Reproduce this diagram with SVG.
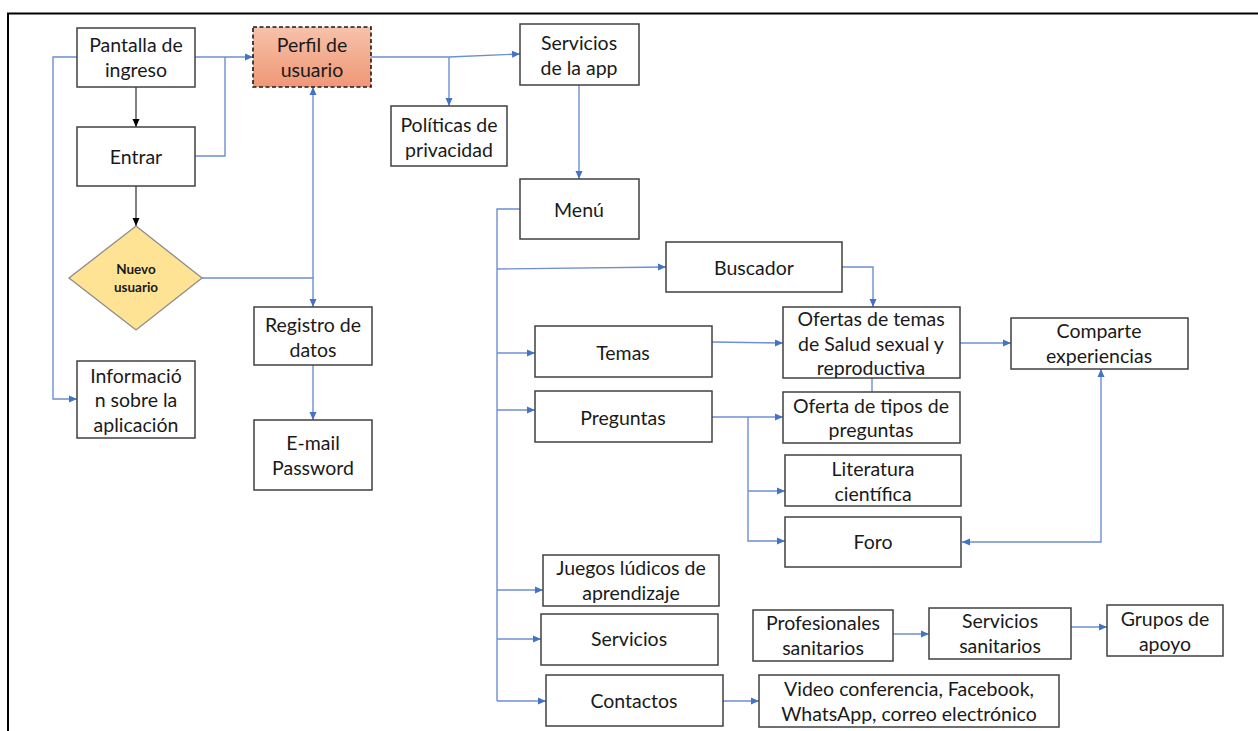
<svg xmlns="http://www.w3.org/2000/svg" width="1258" height="731" viewBox="0 0 1258 731">
<style>
.box{fill:#fff;stroke:#404040;stroke-width:1.5}
.t{font-family:Lato,"Liberation Sans",sans-serif;font-size:19.5px;fill:#1a1a1a;text-anchor:middle}
.tb{font-family:Lato,"Liberation Sans",sans-serif;font-size:13.5px;font-weight:bold;fill:#1a1a1a;text-anchor:middle}
.c{fill:none;stroke:#6d8fd3;stroke-width:1.4}
.k{fill:none;stroke:#1a1a1a;stroke-width:1.1}
</style>
<defs>
<linearGradient id="sal" x1="0" y1="0" x2="0" y2="1">
<stop offset="0" stop-color="#f7c2aa"/>
<stop offset="1" stop-color="#ef9776"/>
</linearGradient>
<marker id="ab" markerUnits="userSpaceOnUse" markerWidth="10" markerHeight="10" refX="9" refY="5" orient="auto">
<path d="M1,1.5 L9,5 L1,8.5 Z" fill="#4472c4"/>
</marker>
<marker id="abs" markerUnits="userSpaceOnUse" markerWidth="10" markerHeight="10" refX="1" refY="5" orient="auto">
<path d="M9,1.5 L1,5 L9,8.5 Z" fill="#4472c4"/>
</marker>
<marker id="ak" markerUnits="userSpaceOnUse" markerWidth="10" markerHeight="10" refX="9" refY="5" orient="auto">
<path d="M1,1.5 L9,5 L1,8.5 Z" fill="#000"/>
</marker>
</defs>
<rect x="0" y="0" width="1258" height="731" fill="#fff"/>
<path d="M8,731 L8,13.5 L1258,13.5" fill="none" stroke="#000" stroke-width="2"/>

<g id="connectors">
<path class="k" d="M136,87 L136,127" marker-end="url(#ak)"/>
<path class="k" d="M136,186 L136,226" marker-end="url(#ak)"/>
<path class="c" d="M195,57 L253,57" marker-end="url(#ab)"/>
<path class="c" d="M195,156 L225,156 L225,57"/>
<path class="c" d="M77,57 L53,57 L53,399 L77,399" marker-end="url(#ab)"/>
<path class="c" d="M313,278 L313,87" marker-end="url(#ab)"/>
<path class="c" d="M202,278 L313,278 L313,307" marker-end="url(#ab)"/>
<path class="c" d="M313,365 L313,420" marker-end="url(#ab)"/>
<path class="c" d="M371,57 L449,57 L520,54" marker-end="url(#ab)"/>
<path class="c" d="M449,57 L449,106" marker-end="url(#ab)"/>
<path class="c" d="M579,85 L579,179" marker-end="url(#ab)"/>
<path class="c" d="M520,209 L497,209 L497,701"/>
<path class="c" d="M497,269 L666,267" marker-end="url(#ab)"/>
<path class="c" d="M497,353 L535,353" marker-end="url(#ab)"/>
<path class="c" d="M497,410 L535,410" marker-end="url(#ab)"/>
<path class="c" d="M497,590 L543,590" marker-end="url(#ab)"/>
<path class="c" d="M497,639 L541,639" marker-end="url(#ab)"/>
<path class="c" d="M497,701 L546,701" marker-end="url(#ab)"/>
<path class="c" d="M842,267 L873,267 L873,307" marker-end="url(#ab)"/>
<path class="c" d="M712,342 L783,343" marker-end="url(#ab)"/>
<path class="c" d="M960,343 L1011,343" marker-end="url(#ab)"/>
<path class="c" d="M872,378 L872,392"/>
<path class="c" d="M712,417 L783,417" marker-end="url(#ab)"/>
<path class="c" d="M748,417 L748,541 L785,541" marker-end="url(#ab)"/>
<path class="c" d="M748,491 L785,491" marker-end="url(#ab)"/>
<path class="c" d="M962,542 L1101,542 L1101,369" marker-start="url(#abs)" marker-end="url(#ab)"/>
<path class="c" d="M723,701 L759,701" marker-end="url(#ab)"/>
<path class="c" d="M893,634 L929,634" marker-end="url(#ab)"/>
<path class="c" d="M1071,627 L1107,627" marker-end="url(#ab)"/>
</g>

<g id="pantalla"><rect class="box" x="77" y="28" width="118" height="59"/><text class="t" x="136" y="52">Pantalla de</text><text class="t" x="136" y="77">ingreso</text></g>
<g id="perfil"><rect x="253" y="27" width="118" height="60" fill="url(#sal)" stroke="#1a1a1a" stroke-width="1.6" stroke-dasharray="4,2.5"/><text class="t" x="312" y="52">Perfil de</text><text class="t" x="312" y="77">usuario</text></g>
<g id="entrar"><rect class="box" x="77" y="127" width="118" height="59"/><text class="t" x="136" y="164">Entrar</text></g>
<g id="nuevo"><path d="M136,226 L202,278 L136,330 L69,278 Z" fill="#ffe395" stroke="#8c8c8c" stroke-width="1.3"/><text class="tb" x="136" y="274">Nuevo</text><text class="tb" x="136" y="292">usuario</text></g>
<g id="informacion"><rect class="box" x="77" y="361" width="118" height="77"/><text class="t" x="136" y="383">Informació</text><text class="t" x="136" y="407">n sobre la</text><text class="t" x="136" y="432">aplicación</text></g>
<g id="registro"><rect class="box" x="254" y="307" width="118" height="58"/><text class="t" x="313" y="332">Registro de</text><text class="t" x="313" y="357">datos</text></g>
<g id="email"><rect class="box" x="254" y="420" width="118" height="70"/><text class="t" x="313" y="450">E-mail</text><text class="t" x="313" y="475">Password</text></g>
<g id="politicas"><rect class="box" x="391" y="106" width="116" height="60"/><text class="t" x="449" y="132">Políticas de</text><text class="t" x="449" y="157">privacidad</text></g>
<g id="servapp"><rect class="box" x="520" y="24" width="119" height="61"/><text class="t" x="579" y="50">Servicios</text><text class="t" x="579" y="75">de la app</text></g>
<g id="menu"><rect class="box" x="520" y="179" width="119" height="60"/><text class="t" x="579" y="217">Menú</text></g>
<g id="buscador"><rect class="box" x="666" y="242" width="176" height="50"/><text class="t" x="754" y="275">Buscador</text></g>
<g id="temas"><rect class="box" x="535" y="326" width="177" height="51"/><text class="t" x="623" y="360">Temas</text></g>
<g id="preguntas"><rect class="box" x="535" y="391" width="177" height="51"/><text class="t" x="623" y="425">Preguntas</text></g>
<g id="ofertas"><rect class="box" x="783" y="307" width="177" height="71"/><text class="t" x="871" y="326">Ofertas de temas</text><text class="t" x="871" y="351">de Salud sexual y</text><text class="t" x="871" y="375">reproductiva</text></g>
<g id="tipos"><rect class="box" x="783" y="392" width="177" height="51"/><text class="t" x="871" y="413">Oferta de tipos de</text><text class="t" x="871" y="437">preguntas</text></g>
<g id="literatura"><rect class="box" x="785" y="455" width="176" height="51"/><text class="t" x="873" y="476">Literatura</text><text class="t" x="873" y="501">científica</text></g>
<g id="foro"><rect class="box" x="785" y="517" width="176" height="50"/><text class="t" x="873" y="549">Foro</text></g>
<g id="comparte"><rect class="box" x="1011" y="318" width="177" height="51"/><text class="t" x="1099" y="338">Comparte</text><text class="t" x="1099" y="363">experiencias</text></g>
<g id="juegos"><rect class="box" x="543" y="555" width="176" height="51"/><text class="t" x="631" y="575">Juegos lúdicos de</text><text class="t" x="631" y="600">aprendizaje</text></g>
<g id="servicios"><rect class="box" x="541" y="614" width="177" height="51"/><text class="t" x="629" y="646">Servicios</text></g>
<g id="contactos"><rect class="box" x="546" y="675" width="177" height="51"/><text class="t" x="634" y="708">Contactos</text></g>
<g id="video"><rect class="box" x="759" y="675" width="300" height="52"/><text class="t" x="909" y="696">Video conferencia, Facebook,</text><text class="t" x="909" y="721">WhatsApp, correo electrónico</text></g>
<g id="profesionales"><rect class="box" x="753" y="610" width="140" height="51"/><text class="t" x="823" y="630">Profesionales</text><text class="t" x="823" y="655">sanitarios</text></g>
<g id="servsan"><rect class="box" x="929" y="608" width="142" height="51"/><text class="t" x="1000" y="628">Servicios</text><text class="t" x="1000" y="653">sanitarios</text></g>
<g id="grupos"><rect class="box" x="1107" y="605" width="116" height="51"/><text class="t" x="1165" y="626">Grupos de</text><text class="t" x="1165" y="651">apoyo</text></g>
</svg>
